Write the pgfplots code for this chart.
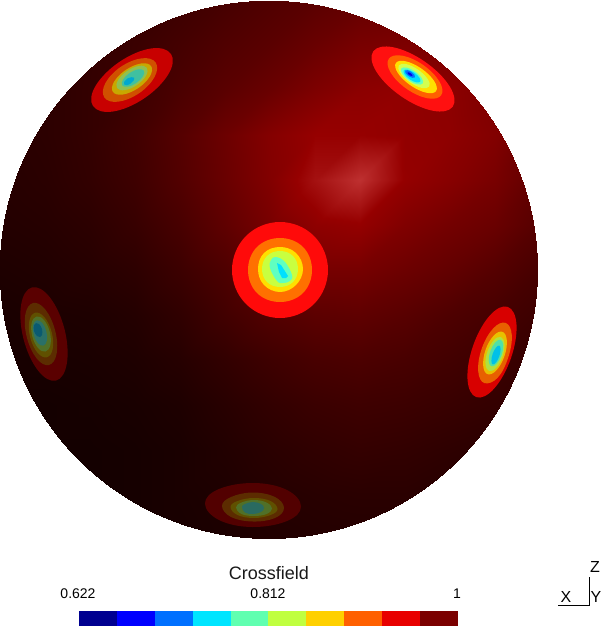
\documentclass[border=0pt]{standalone}
\usepackage{fontspec}
\setmainfont{Liberation Sans}
\usepackage{pgfplots}
\pgfplotsset{compat=1.18}

% one contour ring of a spot: r g b, then its outline
\newcommand{\ring}[4]{\addplot[draw=none,fill={rgb,255:red,#1;green,#2;blue,#3},smooth cycle,tension=0.67] coordinates {#4};}
\newcommand{\barseg}[5]{\addplot[draw=none,fill={rgb,255:red,#1;green,#2;blue,#3}] coordinates {(#4,611) (#5,611) (#5,626) (#4,626)} -- cycle;}

\begin{document}
\begin{tikzpicture}
\begin{axis}[
  width=601pt, height=626pt, scale only axis,
  xmin=0, xmax=601, ymin=0, ymax=626,
  y dir=reverse,
  hide axis, clip=false,
  colormap={shade}{rgb255(0cm)=(0,0,0) rgb255(15cm)=(150,0,0) rgb255(20cm)=(200,60,60)},
  point meta min=0, point meta max=200,
]
\begin{scope}
\clip (axis cs:268.5,269.5) circle[radius=269];
\addplot[surf, shader=interp, mesh/cols=13, point meta=explicit] table[row sep=\\, meta=c] {
x y c\\
0 0 50\\ 45 0 50\\ 90 0 50\\ 135 0 55\\ 180 0 60\\ 225 0 70\\ 270 0 80\\ 315 0 90\\ 360 0 100\\ 405 0 105\\ 450 0 105\\ 495 0 100\\ 540 0 95\\
0 45 45\\ 45 45 45\\ 90 45 50\\ 135 45 58\\ 180 45 68\\ 225 45 80\\ 270 45 90\\ 315 45 105\\ 360 45 120\\ 405 45 125\\ 450 45 120\\ 495 45 110\\ 540 45 100\\
0 90 42\\ 45 90 44\\ 90 90 52\\ 135 90 60\\ 180 90 75\\ 225 90 90\\ 270 90 105\\ 315 90 125\\ 360 90 140\\ 405 90 145\\ 450 90 140\\ 495 90 125\\ 540 90 105\\
0 135 40\\ 45 135 44\\ 90 135 52\\ 135 135 65\\ 180 135 85\\ 225 135 108\\ 270 135 132\\ 315 135 150\\ 360 135 150\\ 405 135 146\\ 450 135 142\\ 495 135 130\\ 540 135 100\\
0 180 38\\ 45 180 42\\ 90 180 50\\ 135 180 62\\ 180 180 82\\ 225 180 105\\ 270 180 130\\ 315 180 164\\ 360 180 190\\ 405 180 148\\ 450 180 135\\ 495 180 120\\ 540 180 95\\
0 225 35\\ 45 225 38\\ 90 225 44\\ 135 225 55\\ 180 225 72\\ 225 225 95\\ 270 225 120\\ 315 225 142\\ 360 225 148\\ 405 225 128\\ 450 225 115\\ 495 225 105\\ 540 225 85\\
0 270 30\\ 45 270 33\\ 90 270 38\\ 135 270 45\\ 180 270 60\\ 225 270 78\\ 270 270 100\\ 315 270 118\\ 360 270 118\\ 405 270 108\\ 450 270 98\\ 495 270 85\\ 540 270 70\\
0 315 25\\ 45 315 28\\ 90 315 30\\ 135 315 36\\ 180 315 48\\ 225 315 66\\ 270 315 82\\ 315 315 92\\ 360 315 95\\ 405 315 88\\ 450 315 78\\ 495 315 70\\ 540 315 60\\
0 360 22\\ 45 360 24\\ 90 360 26\\ 135 360 30\\ 180 360 38\\ 225 360 50\\ 270 360 62\\ 315 360 72\\ 360 360 76\\ 405 360 72\\ 450 360 66\\ 495 360 60\\ 540 360 52\\
0 405 20\\ 45 405 20\\ 90 405 22\\ 135 405 25\\ 180 405 30\\ 225 405 40\\ 270 405 50\\ 315 405 58\\ 360 405 62\\ 405 405 60\\ 450 405 56\\ 495 405 52\\ 540 405 45\\
0 450 20\\ 45 450 20\\ 90 450 20\\ 135 450 22\\ 180 450 26\\ 225 450 34\\ 270 450 42\\ 315 450 48\\ 360 450 52\\ 405 450 50\\ 450 450 46\\ 495 450 42\\ 540 450 38\\
0 495 20\\ 45 495 20\\ 90 495 20\\ 135 495 22\\ 180 495 26\\ 225 495 30\\ 270 495 36\\ 315 495 40\\ 360 495 42\\ 405 495 42\\ 450 495 38\\ 495 495 35\\ 540 495 32\\
0 540 20\\ 45 540 20\\ 90 540 20\\ 135 540 22\\ 180 540 24\\ 225 540 28\\ 270 540 32\\ 315 540 35\\ 360 540 36\\ 405 540 36\\ 450 540 34\\ 495 540 30\\ 540 540 28\\
};
\end{scope}

% top left spot
\ring{200}{0}{0}{(171,54) (168.3,74.3) (144.3,98.3) (113.1,111.5) (93,106) (95.7,85.7) (119.7,61.7) (150.9,48.5)}
\ring{208}{80}{0}{(155.7,62.6) (154.5,77.1) (139,93.3) (118.1,101.7) (104.3,97.4) (105.5,82.9) (121,66.7) (141.9,58.3)}
\ring{200}{168}{0}{(151.1,66.1) (149.9,76.3) (138.2,88.1) (122.9,94.5) (112.9,91.9) (114.1,81.7) (125.8,69.9) (141.1,63.5)}
\ring{144}{192}{80}{(146.9,67.9) (145.9,75.9) (136.8,85.1) (124.9,90.1) (117.1,88.1) (118.1,80.1) (127.2,70.9) (139.1,65.9)}
\ring{64}{192}{160}{(143.8,70.7) (143,76.3) (136.4,83) (127.8,86.7) (122.2,85.3) (123,79.7) (129.6,73) (138.2,69.3)}
\ring{0}{168}{208}{(134,77.6) (133.7,80.4) (130.7,83.5) (126.7,85.2) (124,84.4) (124.3,81.6) (127.3,78.5) (131.3,77.2)}

% top right spot
\ring{255}{16}{16}{(452.8,106.6) (449.6,86.3) (425,61.8) (393.4,47.3) (373.2,51.4) (376.4,71.7) (401,96.2) (432.6,110.7)}
\ring{255}{96}{0}{(441.2,95.2) (439.4,81.5) (423.3,65.1) (402.4,55.7) (388.8,58.8) (390.6,72.5) (406.7,88.9) (427.6,98.3)}
\ring{255}{224}{0}{(436.1,91) (434.2,81.1) (421.7,68.8) (405.8,61.3) (395.9,63) (397.8,72.9) (410.3,85.2) (426.2,92.7)}
\ring{210}{255}{80}{(429.2,86.5) (427.7,79.1) (418.3,69.8) (406.3,64.1) (398.8,65.5) (400.3,72.9) (409.7,82.2) (421.7,87.9)}
\ring{100}{255}{190}{(422.7,83.4) (421.7,78) (415.1,71.5) (406.7,67.6) (401.3,68.6) (402.3,74) (408.9,80.5) (417.3,84.4)}
\ring{0}{220}{255}{(420.2,81.7) (419.4,77.7) (414.3,72.7) (407.8,69.7) (403.8,70.3) (404.6,74.3) (409.7,79.3) (416.2,82.3)}
\ring{0}{110}{255}{(414.9,77.4) (414.5,75) (411.4,72) (407.5,70.2) (405.1,70.6) (405.5,73) (408.6,76) (412.5,77.8)}
\ring{0}{0}{230}{(412.5,75.7) (411,73.5) (409,72.5) (407.5,72.3) (408,74) (410,75.5)}

% centre spot
\ring{255}{10}{10}{(328,270) (314,304) (280,318) (246,304) (232,270) (246,236) (280,222) (314,236)}
\ring{255}{112}{0}{(312,270) (303,293) (280,302) (257,293) (248,270) (257,247) (280,238) (303,247)}
\ring{255}{223}{0}{(303,269) (296,285) (280,292) (264,285) (258,269) (264,253) (280,247) (296,253)}
\ring{200}{255}{64}{(298,269) (293,282) (280,287) (267,282) (262,269) (267,256) (280,251) (293,256)}
\ring{96}{255}{192}{(292,275) (290,281) (283,283) (277,281) (270,268) (271,260) (276,257) (285,262)}
\addplot[draw=none,fill={rgb,255:red,0;green,224;blue,255}] coordinates {(277,263) (281,265) (288,276) (286,278) (282,278) (279,272)} -- cycle;

% left spot
\ring{90}{0}{0}{(56,380.6) (66.9,363.2) (64.4,328.7) (49.9,297.4) (32,287.4) (21.1,304.8) (23.6,339.3) (38.1,370.6)}
\ring{92}{44}{0}{(49,365) (56.7,353.3) (55.1,330.4) (45.3,309.5) (33,303) (25.3,314.7) (26.9,337.6) (36.7,358.5)}
\ring{96}{80}{0}{(46.8,357.3) (52.7,348.9) (51.7,332.2) (44.5,317.3) (35.2,312.7) (29.3,321.1) (30.3,337.8) (37.5,352.7)}
\ring{80}{112}{40}{(45.5,351.5) (50.4,344.8) (49.7,331.7) (44,320) (36.5,316.5) (31.6,323.2) (32.3,336.3) (38,348)}
\ring{42}{112}{104}{(43.3,345.6) (46.8,340.7) (46.3,331.4) (42.2,322.9) (36.7,320.4) (33.2,325.3) (33.7,334.6) (37.8,343.1)}
\ring{10}{90}{112}{(40,337) (42,335) (42,329) (39,324) (36,323) (34,325) (34,331) (37,336)}

% right spot
\ring{216}{0}{0}{(507.8,306.9) (516.5,324.8) (510.8,358.6) (494.1,388.6) (476.2,397.1) (467.5,379.2) (473.2,345.4) (489.9,315.4)}
\ring{232}{96}{0}{(505.6,322.9) (511.8,335) (508.2,357.6) (497.8,377.6) (484.4,383.1) (478.2,371) (481.8,348.4) (493.2,328.4)}
\ring{232}{192}{0}{(502.4,331.8) (506.8,340.3) (504.4,356.3) (496.4,370.3) (487.6,374.2) (483.2,365.7) (485.6,349.7) (493.6,335.7)}
\ring{176}{224}{64}{(500.9,337.1) (504.5,343.9) (502.5,356.6) (496.1,367.9) (489.1,370.9) (485.5,364.1) (487.5,351.4) (493.9,340.1)}
\ring{80}{224}{168}{(500.6,339.8) (503.3,345.1) (501.6,355) (496.7,363.7) (491.4,366.2) (488.7,360.9) (490.4,351) (495.3,342.3)}
\ring{0}{192}{232}{(499.3,345.6) (500.6,349.2) (499.3,356.2) (496,362.4) (492.7,364.4) (491.4,360.8) (492.7,353.8) (496,347.6)}

% bottom spot
\ring{82}{0}{0}{(301,506.5) (287,521) (252,527) (219,520) (205,503.5) (219,489) (254,483) (287,490)}
\ring{92}{44}{0}{(284,508) (275,518) (253,521.5) (231,517) (222,506) (231,497) (253,492.5) (275,497)}
\ring{96}{80}{0}{(277.5,509) (270.5,515) (254,518) (237.5,515) (230.5,507) (237.5,501) (254,498) (270.5,501)}
\ring{80}{112}{40}{(272,508.5) (266.5,514) (254,516) (241.5,514) (236,507.5) (241.5,502.5) (254,500) (266.5,502.5)}
\ring{42}{106}{96}{(264,508) (261,512) (253,514) (245,512.5) (242,507) (245,504) (253,502) (261,504)}

% colour bar
\barseg{0}{0}{144}{79}{117}
\barseg{0}{0}{255}{117}{155}
\barseg{0}{112}{255}{155}{193}
\barseg{0}{229}{255}{193}{231}
\barseg{96}{255}{176}{231}{268}
\barseg{192}{255}{64}{268}{306}
\barseg{255}{208}{0}{306}{344}
\barseg{255}{96}{0}{344}{382}
\barseg{232}{0}{0}{382}{420}
\barseg{123}{0}{0}{420}{458}

% orientation axes
\addplot[black,line width=0.8pt] coordinates {(558,605) (589,605) (589,577)};

\node[font=\fontsize{18}{18}\selectfont,text=black!90] at (axis cs:269,573) {Crossfield};
\node[font=\fontsize{14}{14}\selectfont] at (axis cs:78,594) {0.622};
\node[font=\fontsize{14}{14}\selectfont] at (axis cs:268,594) {0.812};
\node[font=\fontsize{14}{14}\selectfont,anchor=east,inner sep=0pt] at (axis cs:461,594) {1};
\node[font=\fontsize{16}{16}\selectfont] at (axis cs:566,597) {X};
\node[font=\fontsize{16}{16}\selectfont] at (axis cs:596,597) {Y};
\node[font=\fontsize{16}{16}\selectfont] at (axis cs:595,567) {Z};
\end{axis}
\pgfresetboundingbox
\path[use as bounding box] (0,0) rectangle (601pt,626pt);
\end{tikzpicture}
\end{document}
